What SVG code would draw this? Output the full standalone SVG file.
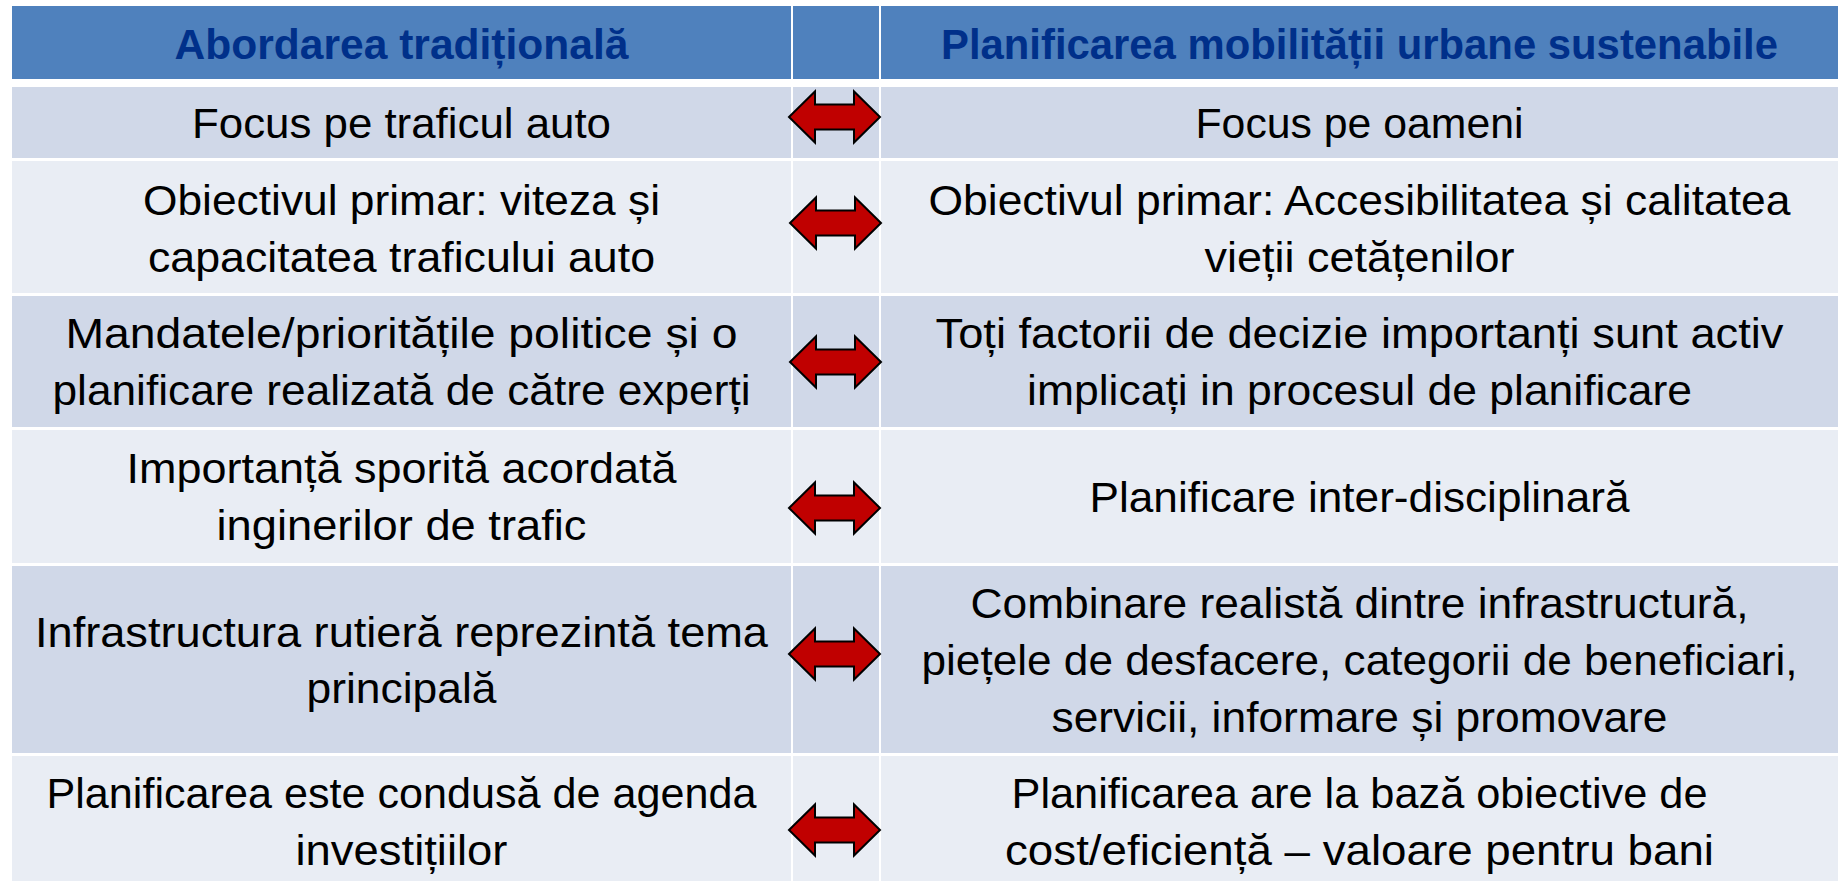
<svg xmlns="http://www.w3.org/2000/svg" xmlns:xlink="http://www.w3.org/1999/xlink" width="1838" height="881" viewBox="0 0 1838 881">
<style>
.hd{fill:#4F81BD}
.odd{fill:#D0D8E8}
.even{fill:#E9EDF4}
.ht{font-family:"Liberation Sans",Arial,sans-serif;font-size:43px;font-weight:bold;fill:#00308A;text-anchor:middle}
.t{font-family:"Liberation Sans",Arial,sans-serif;font-size:43px;fill:#000;text-anchor:middle}
.arr{fill:#C00000;stroke:#000;stroke-width:2;stroke-linejoin:miter}
</style>
<defs>
<path id="dblarrow" class="arr" d="M-45.5,0 L-19.5,-25.5 L-19.5,-12.5 L19.5,-12.5 L19.5,-25.5 L45.5,0 L19.5,25.5 L19.5,12.5 L-19.5,12.5 L-19.5,25.5 Z"/>
</defs>
<rect x="0" y="0" width="1838" height="881" fill="#FFFFFF"/>

<g id="header">
<rect class="hd" x="12" y="6" width="779" height="73"/>
<rect class="hd" x="793" y="6" width="86" height="73"/>
<rect class="hd" x="881" y="6" width="957" height="73"/>
<text class="ht" x="401.5" y="59" textLength="454" lengthAdjust="spacingAndGlyphs">Abordarea tradițională</text>
<text class="ht" x="1359.5" y="59" textLength="837" lengthAdjust="spacingAndGlyphs">Planificarea mobilității urbane sustenabile</text>
</g>

<g id="row1">
<rect class="odd" x="12" y="87" width="779" height="71"/>
<rect class="odd" x="793" y="87" width="86" height="71"/>
<rect class="odd" x="881" y="87" width="957" height="71"/>
<text class="t" x="401.5" y="138" textLength="419" lengthAdjust="spacingAndGlyphs">Focus pe traficul auto</text>
<text class="t" x="1359.5" y="138" textLength="328" lengthAdjust="spacingAndGlyphs">Focus pe oameni</text>
</g>

<g id="row2">
<rect class="even" x="12" y="161" width="779" height="132"/>
<rect class="even" x="793" y="161" width="86" height="132"/>
<rect class="even" x="881" y="161" width="957" height="132"/>
<text class="t" x="401.5" y="215" textLength="517" lengthAdjust="spacingAndGlyphs">Obiectivul primar: viteza și</text>
<text class="t" x="401.5" y="272" textLength="507" lengthAdjust="spacingAndGlyphs">capacitatea traficului auto</text>
<text class="t" x="1359.5" y="215" textLength="862" lengthAdjust="spacingAndGlyphs">Obiectivul primar: Accesibilitatea și calitatea</text>
<text class="t" x="1359.5" y="272" textLength="310" lengthAdjust="spacingAndGlyphs">vieții cetățenilor</text>
</g>

<g id="row3">
<rect class="odd" x="12" y="296" width="779" height="131"/>
<rect class="odd" x="793" y="296" width="86" height="131"/>
<rect class="odd" x="881" y="296" width="957" height="131"/>
<text class="t" x="401.5" y="348" textLength="672" lengthAdjust="spacingAndGlyphs">Mandatele/prioritățile politice și o</text>
<text class="t" x="401.5" y="405" textLength="698" lengthAdjust="spacingAndGlyphs">planificare realizată de către experți</text>
<text class="t" x="1359.5" y="348" textLength="848" lengthAdjust="spacingAndGlyphs">Toți factorii de decizie importanți sunt activ</text>
<text class="t" x="1359.5" y="405" textLength="665" lengthAdjust="spacingAndGlyphs">implicați in procesul de planificare</text>
</g>

<g id="row4">
<rect class="even" x="12" y="430" width="779" height="133"/>
<rect class="even" x="793" y="430" width="86" height="133"/>
<rect class="even" x="881" y="430" width="957" height="133"/>
<text class="t" x="401.5" y="483" textLength="550" lengthAdjust="spacingAndGlyphs">Importanță sporită acordată</text>
<text class="t" x="401.5" y="540" textLength="370" lengthAdjust="spacingAndGlyphs">inginerilor de trafic</text>
<text class="t" x="1359.5" y="512" textLength="540" lengthAdjust="spacingAndGlyphs">Planificare inter-disciplinară</text>
</g>

<g id="row5">
<rect class="odd" x="12" y="566" width="779" height="187"/>
<rect class="odd" x="793" y="566" width="86" height="187"/>
<rect class="odd" x="881" y="566" width="957" height="187"/>
<text class="t" x="401.5" y="647" textLength="733" lengthAdjust="spacingAndGlyphs">Infrastructura rutieră reprezintă tema</text>
<text class="t" x="401.5" y="703" textLength="190" lengthAdjust="spacingAndGlyphs">principală</text>
<text class="t" x="1359.5" y="618" textLength="778" lengthAdjust="spacingAndGlyphs">Combinare realistă dintre infrastructură,</text>
<text class="t" x="1359.5" y="675" textLength="876" lengthAdjust="spacingAndGlyphs">piețele de desfacere, categorii de beneficiari,</text>
<text class="t" x="1359.5" y="732" textLength="616" lengthAdjust="spacingAndGlyphs">servicii, informare și promovare</text>
</g>

<g id="row6">
<rect class="even" x="12" y="756" width="779" height="125"/>
<rect class="even" x="793" y="756" width="86" height="125"/>
<rect class="even" x="881" y="756" width="957" height="125"/>
<text class="t" x="401.5" y="808" textLength="710" lengthAdjust="spacingAndGlyphs">Planificarea este condusă de agenda</text>
<text class="t" x="401.5" y="865" textLength="212" lengthAdjust="spacingAndGlyphs">investițiilor</text>
<text class="t" x="1359.5" y="808" textLength="696" lengthAdjust="spacingAndGlyphs">Planificarea are la bază obiective de</text>
<text class="t" x="1359.5" y="865" textLength="709" lengthAdjust="spacingAndGlyphs">cost/eficiență – valoare pentru bani</text>
</g>

<g id="connectors">
<use xlink:href="#dblarrow" x="834.5" y="117"/>
<use xlink:href="#dblarrow" x="835.5" y="223"/>
<use xlink:href="#dblarrow" x="835.5" y="362"/>
<use xlink:href="#dblarrow" x="834.5" y="508"/>
<use xlink:href="#dblarrow" x="834.5" y="654"/>
<use xlink:href="#dblarrow" x="834.5" y="830"/>
</g>
</svg>
